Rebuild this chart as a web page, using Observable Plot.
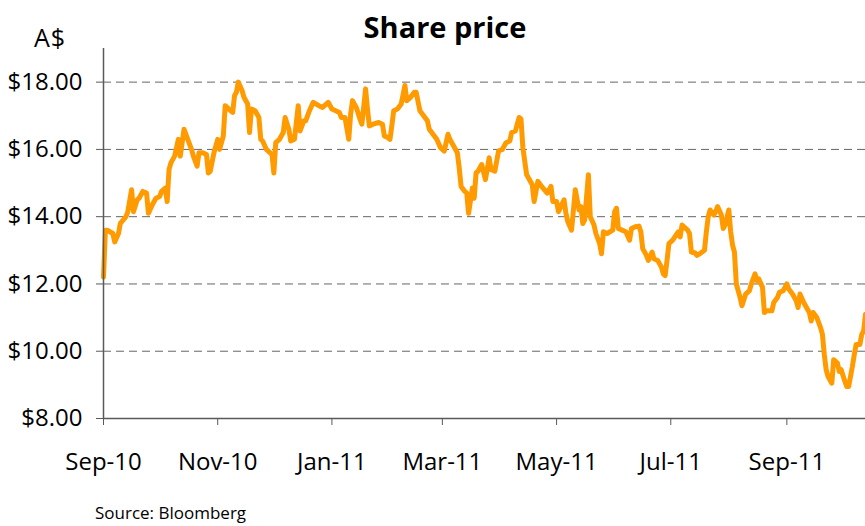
<!DOCTYPE html>
<html>
<head>
<meta charset="utf-8">
<script src="https://cdn.jsdelivr.net/npm/d3@7"></script>
<script src="https://cdn.jsdelivr.net/npm/@observablehq/plot@0.6"></script>
<style>
  html, body { margin: 0; padding: 0; background: #fff; }
  #wrap { position: relative; width: 865px; height: 526px; overflow: hidden; font-family: "Open Sans", "Noto Sans", sans-serif; color: #000; }
  #wrap svg { position: absolute; left: 0; top: 0; }
  .lbl { position: absolute; white-space: nowrap; line-height: 1; }
  #title { left: 0; width: 890px; text-align: center; top: 12px; font-size: 29px; font-weight: 700; }
  #unit { left: 34px; top: 25px; font-size: 25px; letter-spacing: 1px; }
  #source { left: 95px; top: 504px; font-size: 17px; }
</style>
</head>
<body>
<div id="wrap">
  <div class="lbl" id="title">Share price</div>
  <div class="lbl" id="unit">A$</div>
  <div class="lbl" id="source">Source: Bloomberg</div>
</div>
<script>
const dates = [
"2010-09-01","2010-09-02","2010-09-03","2010-09-06","2010-09-07","2010-09-09","2010-09-10","2010-09-13","2010-09-14","2010-09-16",
"2010-09-17","2010-09-19","2010-09-20","2010-09-22","2010-09-24","2010-09-25","2010-09-27","2010-09-29","2010-10-01","2010-10-02",
"2010-10-04","2010-10-05","2010-10-06","2010-10-07","2010-10-09","2010-10-11","2010-10-12","2010-10-14","2010-10-16","2010-10-18",
"2010-10-19","2010-10-21","2010-10-22","2010-10-24","2010-10-26","2010-10-27","2010-10-28","2010-10-30","2010-11-01","2010-11-02",
"2010-11-04","2010-11-05","2010-11-07","2010-11-09","2010-11-10","2010-11-11","2010-11-12","2010-11-14","2010-11-15","2010-11-17",
"2010-11-18","2010-11-19","2010-11-21","2010-11-23","2010-11-24","2010-11-25","2010-11-27","2010-11-29","2010-11-30","2010-12-01",
"2010-12-02","2010-12-04","2010-12-06","2010-12-07","2010-12-09","2010-12-10","2010-12-12","2010-12-14","2010-12-15","2010-12-17",
"2010-12-18","2010-12-20","2010-12-22","2010-12-25","2010-12-27","2010-12-30","2011-01-01","2011-01-03","2011-01-05","2011-01-06",
"2011-01-08","2011-01-10","2011-01-11","2011-01-12","2011-01-14","2011-01-16","2011-01-17","2011-01-19","2011-01-20","2011-01-21",
"2011-01-23","2011-01-26","2011-01-28","2011-01-29","2011-01-31","2011-02-01","2011-02-02","2011-02-03","2011-02-05","2011-02-07",
"2011-02-09","2011-02-10","2011-02-12","2011-02-14","2011-02-15","2011-02-17","2011-02-19","2011-02-21","2011-02-22","2011-02-24",
"2011-02-26","2011-02-28","2011-03-02","2011-03-04","2011-03-05","2011-03-07","2011-03-09","2011-03-10","2011-03-11","2011-03-13",
"2011-03-14","2011-03-15","2011-03-17","2011-03-18","2011-03-19","2011-03-20","2011-03-22","2011-03-24","2011-03-26","2011-03-27",
"2011-03-29","2011-03-31","2011-04-02","2011-04-04","2011-04-06","2011-04-07","2011-04-09","2011-04-11","2011-04-12","2011-04-13",
"2011-04-15","2011-04-16","2011-04-18","2011-04-19","2011-04-21","2011-04-23","2011-04-26","2011-04-28","2011-04-29","2011-05-01",
"2011-05-02","2011-05-05","2011-05-06","2011-05-07","2011-05-09","2011-05-11","2011-05-13","2011-05-14","2011-05-15","2011-05-16",
"2011-05-18","2011-05-19","2011-05-21","2011-05-22","2011-05-24","2011-05-25","2011-05-26","2011-05-28","2011-05-31","2011-06-01",
"2011-06-02","2011-06-03","2011-06-05","2011-06-07","2011-06-09","2011-06-10","2011-06-12","2011-06-14","2011-06-15","2011-06-16",
"2011-06-18","2011-06-19","2011-06-21","2011-06-22","2011-06-24","2011-06-26","2011-06-27","2011-06-28","2011-06-29","2011-06-30",
"2011-07-02","2011-07-05","2011-07-06","2011-07-07","2011-07-10","2011-07-11","2011-07-12","2011-07-14","2011-07-15","2011-07-17",
"2011-07-19","2011-07-20","2011-07-21","2011-07-22","2011-07-24","2011-07-25","2011-07-26","2011-07-28","2011-07-29","2011-07-30",
"2011-08-01","2011-08-02","2011-08-03","2011-08-04","2011-08-05","2011-08-07","2011-08-08","2011-08-10","2011-08-12","2011-08-13",
"2011-08-15","2011-08-16","2011-08-17","2011-08-19","2011-08-20","2011-08-21","2011-08-24","2011-08-25","2011-08-27","2011-08-28",
"2011-08-30","2011-09-01","2011-09-02","2011-09-04","2011-09-06","2011-09-07","2011-09-08","2011-09-10","2011-09-12","2011-09-13",
"2011-09-14","2011-09-15","2011-09-17","2011-09-19","2011-09-20","2011-09-21","2011-09-22","2011-09-23","2011-09-25","2011-09-26",
"2011-09-28","2011-09-29","2011-09-30","2011-10-02","2011-10-03","2011-10-04","2011-10-06","2011-10-07","2011-10-08","2011-10-10",
"2011-10-11","2011-10-12","2011-10-13"
];
const prices = [
12.2,13.6,13.6,13.5,13.25,13.5,13.8,14.0,14.15,14.8,
14.15,14.5,14.55,14.75,14.7,14.1,14.35,14.55,14.6,14.75,
14.85,14.45,15.4,15.6,15.8,16.3,15.8,16.6,16.3,16.0,
15.8,15.5,15.9,15.9,15.85,15.3,15.35,15.9,16.3,16.0,
16.4,17.3,17.2,17.1,17.6,17.7,18.0,17.75,17.55,17.35,
16.5,17.2,17.15,16.95,16.3,16.25,16.0,15.9,15.85,15.3,
16.2,16.3,16.5,16.95,16.6,16.25,16.3,17.3,16.55,16.85,
16.85,17.15,17.4,17.3,17.25,17.4,17.2,17.15,17.1,16.95,
16.95,16.3,17.05,17.45,17.25,16.9,16.75,17.8,17.2,16.7,
16.75,16.8,16.75,16.4,16.35,16.3,16.7,17.15,17.2,17.35,
17.9,17.45,17.55,17.7,17.7,17.15,17.0,16.85,16.6,16.45,
16.3,16.05,15.95,16.45,16.3,16.1,15.9,15.45,14.9,14.75,
14.7,14.1,14.85,14.55,15.3,15.35,15.55,15.1,15.75,15.4,
15.35,15.95,16.0,16.2,16.25,16.5,16.55,16.95,16.9,16.05,
15.25,15.15,14.95,14.45,15.05,14.9,14.7,14.9,14.45,14.45,
14.15,14.5,14.1,13.85,13.6,14.8,14.2,14.3,13.8,13.9,
15.25,14.0,13.75,13.5,13.2,12.9,13.55,13.5,13.6,14.15,
14.25,13.65,13.6,13.55,13.3,13.65,13.7,13.72,13.55,13.05,
12.85,12.7,12.95,12.75,12.7,12.5,12.3,12.25,12.7,13.2,
13.3,13.55,13.4,13.75,13.6,13.5,12.95,12.92,12.85,12.92,
13.0,13.55,14.0,14.2,14.05,14.15,14.3,14.05,13.65,13.75,
14.2,13.55,13.15,12.95,12.0,11.6,11.35,11.7,11.8,12.0,
12.3,12.1,12.15,11.9,11.15,11.2,11.2,11.45,11.6,11.75,
11.8,12.0,11.85,11.7,11.5,11.3,11.7,11.45,11.25,11.15,
10.9,11.15,11.0,10.7,10.5,9.9,9.45,9.25,9.05,9.75,
9.65,9.4,9.45,9.1,8.95,8.95,9.55,9.9,10.2,10.2,
10.5,10.6,11.1
];
const yTicks = [8, 10, 12, 14, 16, 18];
const gridValues = [10, 12, 14, 16, 18];
const xTickDates = ["2010-09-01","2010-11-01","2011-01-01","2011-03-01","2011-05-01","2011-07-01","2011-09-01"];
const xStart = "2010-09-01";
const xEnd = "2011-10-13";

const data = dates.map((d, i) => ({date: new Date(d), price: prices[i]}));
const axisColor = "#595959";

const chart = Plot.plot({
  width: 865,
  height: 526,
  marginLeft: 103,
  marginRight: 0,
  marginTop: 48,
  marginBottom: 108,
  style: {fontFamily: "'Open Sans', 'Noto Sans', sans-serif", fontSize: "24px", color: "#000", background: "transparent", overflow: "visible"},
  x: {type: "utc", domain: [new Date(xStart), new Date(xEnd)]},
  y: {domain: [8, 19]},
  marks: [
    Plot.ruleY(gridValues, {stroke: "#666", strokeWidth: 1, strokeDasharray: "8,5"}),
    Plot.line(data, {x: "date", y: "price", stroke: "#FF9A00", strokeWidth: 5, strokeLinejoin: "round", strokeLinecap: "round"}),
    Plot.ruleX([new Date(xStart)], {stroke: axisColor, strokeWidth: 1.5}),
    Plot.ruleY([8], {stroke: axisColor, strokeWidth: 1.5}),
    Plot.axisY({ticks: yTicks, tickFormat: d => "$" + d.toFixed(2), tickSize: 7, tickPadding: 14, stroke: axisColor, fill: "#000", fontSize: 24, label: null}),
    Plot.axisX({ticks: xTickDates.map(d => new Date(d)), tickFormat: d3.utcFormat("%b-%y"), tickSize: 7, tickPadding: 27, stroke: axisColor, fill: "#000", fontSize: 24, label: null})
  ]
});
document.getElementById("wrap").prepend(chart);
</script>
</body>
</html>
